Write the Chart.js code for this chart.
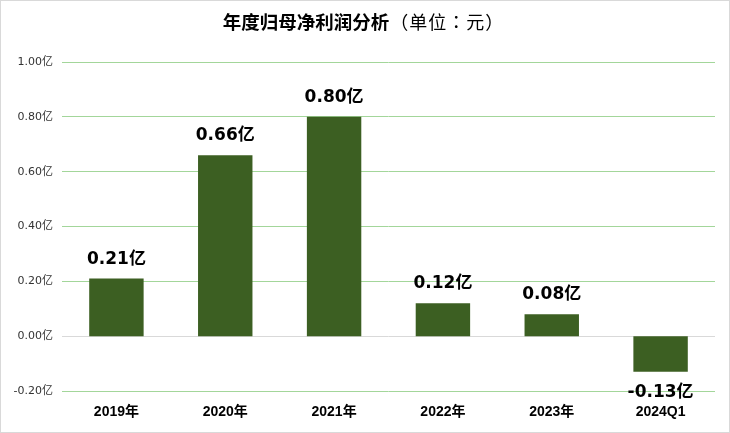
<!DOCTYPE html>
<html>
<head>
<meta charset="utf-8">
<script src="https://cdn.jsdelivr.net/npm/chart.js@4/dist/chart.umd.min.js"></script>
<style>
  html, body { margin: 0; padding: 0; background: #ffffff; }
  #wrap { width: 730px; height: 433px; position: relative; }
</style>
</head>
<body>
<div id="wrap"><canvas id="c" width="730" height="433"></canvas></div>
<script>
const categories = ['2019年', '2020年', '2021年', '2022年', '2023年', '2024Q1'];
const profitValues = [0.21, 0.66, 0.80, 0.12, 0.08, -0.13];
const valueLabels = ['0.21亿', '0.66亿', '0.80亿', '0.12亿', '0.08亿', '-0.13亿'];
const titleBold = '年度归母净利润分析';
const titleNormal = '（单位：元）';
const yMin = -0.2, yMax = 1.0, yStep = 0.2;

const bgBorder = {
  id: 'bgBorder',
  beforeDraw(chart) {
    const ctx = chart.ctx;
    ctx.save();
    ctx.fillStyle = '#ffffff';
    ctx.fillRect(0, 0, chart.width, chart.height);
    ctx.restore();
  },
  afterDraw(chart) {
    const ctx = chart.ctx;
    ctx.save();
    ctx.strokeStyle = '#d9d9d9';
    ctx.lineWidth = 1;
    ctx.strokeRect(0.5, 0.5, chart.width - 1, chart.height - 1);
    // title
    const fb = "bold 18.5px 'Noto Sans CJK SC', 'Noto Sans', sans-serif";
    const fn = "18px 'Noto Sans CJK TC', 'Noto Sans CJK SC', sans-serif";
    ctx.font = fb; ctx.letterSpacing = '0px'; const wb = ctx.measureText(titleBold).width;
    ctx.font = fn; ctx.letterSpacing = '1px'; const wn = ctx.measureText(titleNormal).width;
    const x0 = 363 - (wb + wn) / 2;
    ctx.textBaseline = 'middle';
    ctx.textAlign = 'left';
    ctx.fillStyle = '#000000';
    ctx.font = fb; ctx.letterSpacing = '0px'; ctx.fillText(titleBold, x0, 22);
    ctx.font = fn; ctx.letterSpacing = '1px'; ctx.fillText(titleNormal, x0 + wb + 1, 22);
    ctx.restore();
  }
};

const barLabels = {
  id: 'barLabels',
  afterDatasetsDraw(chart) {
    const ctx = chart.ctx;
    const meta = chart.getDatasetMeta(0);
    ctx.save();
    ctx.font = "bold 17px 'DejaVu Sans', 'Noto Sans CJK SC', sans-serif";
    ctx.fillStyle = '#000000';
    ctx.textAlign = 'center';
    ctx.textBaseline = 'alphabetic';
    meta.data.forEach((bar, i) => {
      const v = profitValues[i];
      const y = v >= 0 ? bar.y - 15 : bar.y + 25;
      ctx.fillText(valueLabels[i], bar.x, y);
    });
    ctx.restore();
  }
};

const G = '#a3d69a', Z = '#d9d9d9';

new Chart(document.getElementById('c'), {
  type: 'bar',
  data: {
    labels: categories,
    datasets: [{
      data: profitValues,
      backgroundColor: '#3c5f22',
      borderWidth: 0,
      barPercentage: 0.5,
      categoryPercentage: 1.0
    }]
  },
  options: {
    responsive: false,
    animation: false,
    devicePixelRatio: 1,
    layout: { padding: { top: 62, right: 15, bottom: 0, left: 0 } },
    plugins: {
      legend: { display: false },
      title: { display: false },
      tooltip: { enabled: false }
    },
    scales: {
      x: {
        offset: true,
        grid: { display: false, drawTicks: false },
        border: { display: false },
        ticks: {
          color: '#000000',
          padding: 13,
          maxRotation: 0,
          font: { family: "'Liberation Sans', 'Noto Sans CJK SC', sans-serif", size: 14, weight: 'bold' }
        },
        afterFit(scale) { scale.height = 42; }
      },
      y: {
        min: yMin,
        max: yMax,
        ticks: {
          stepSize: yStep,
          color: '#333333',
          padding: 9,
          font: { family: "'DejaVu Sans', 'Noto Sans CJK SC', sans-serif", size: 11 },
          callback: (v) => (Math.round(Number(v) * 100) / 100 + 0).toFixed(2).replace(/^-0\.00$/, '0.00') + '亿'
        },
        grid: {
          drawTicks: false,
          lineWidth: 1,
          color: [G, Z, G, G, G, G, G]
        },
        border: { display: false },
        afterFit(scale) { scale.width = 62; }
      }
    }
  },
  plugins: [bgBorder, barLabels]
});
</script>
</body>
</html>
